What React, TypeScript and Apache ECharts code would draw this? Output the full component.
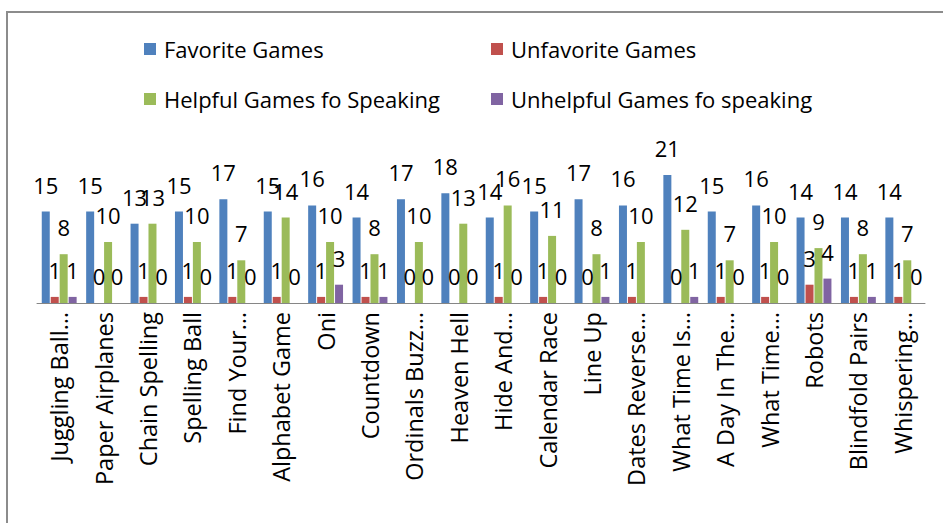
import React, { useEffect, useRef } from "react";
import * as echarts from "echarts";

const categories = [
  "Juggling Ball…",
  "Paper Airplanes",
  "Chain Spelling",
  "Spelling Ball",
  "Find Your…",
  "Alphabet Game",
  "Oni",
  "Countdown",
  "Ordinals Buzz…",
  "Heaven Hell",
  "Hide And…",
  "Calendar Race",
  "Line Up",
  "Dates Reverse…",
  "What Time Is…",
  "A Day In The…",
  "What Time…",
  "Robots",
  "Blindfold Pairs",
  "Whispering…",
];

const favoriteGames = [15, 15, 13, 15, 17, 15, 16, 14, 17, 18, 14, 15, 17, 16, 21, 15, 16, 14, 14, 14];
const unfavoriteGames = [1, 0, 1, 1, 1, 1, 1, 1, 0, 0, 1, 1, 0, 1, 0, 1, 1, 3, 1, 1];
const helpfulSpeaking = [8, 10, 13, 10, 7, 14, 10, 8, 10, 13, 16, 11, 8, 10, 12, 7, 10, 9, 8, 7];
const unhelpfulSpeaking = [1, 0, 0, 0, 0, 0, 3, 1, 0, 0, 0, 0, 1, null, 1, 0, 0, 4, 1, 0];

const seriesNames = [
  "Favorite Games",
  "Unfavorite Games",
  "Helpful Games fo Speaking",
  "Unhelpful Games fo speaking",
];
const colors = ["#4F81BD", "#C0504D", "#9BBB59", "#8064A2"];

const FONT = "'Open Sans', sans-serif";

export default function App() {
  const ref = useRef<HTMLDivElement>(null);

  useEffect(() => {
    if (!ref.current) return;
    const chart = echarts.init(ref.current, null, { renderer: "svg" });
    const datasets = [favoriteGames, unfavoriteGames, helpfulSpeaking, unhelpfulSpeaking];
    const legendCommon = {
      orient: "vertical" as const,
      top: 33,
      itemWidth: 12,
      itemHeight: 12,
      itemGap: 28,
      icon: "rect",
      textStyle: {
        fontFamily: FONT,
        fontSize: 22,
        color: "#000",
        lineHeight: 22,
        padding: [0, 0, 0, 3],
      },
    };
    chart.setOption({
      animation: false,
      backgroundColor: "#fff",
      color: colors,
      textStyle: { fontFamily: FONT },
      legend: [
        { ...legendCommon, left: 139, data: [seriesNames[0], seriesNames[2]] },
        { ...legendCommon, left: 486, data: [seriesNames[1], seriesNames[3]] },
      ],
      graphic: [
        {
          type: "rect",
          shape: { x: 7, y: 12, width: 1000, height: 600 },
          style: { fill: "none", stroke: "#8c8c8c", lineWidth: 2 },
          silent: true,
        },
      ],
      grid: { left: 37, width: 888, top: 150.5, height: 152.5, containLabel: false },
      xAxis: {
        type: "category",
        data: categories,
        axisLine: { lineStyle: { color: "#868686", width: 1 } },
        axisTick: { show: false },
        axisLabel: {
          interval: 0,
          rotate: 90,
          margin: 9,
          fontFamily: FONT,
          fontSize: 23.5,
          color: "#000",
        },
      },
      yAxis: {
        type: "value",
        min: 0,
        max: 25,
        show: false,
        splitLine: { show: false },
      },
      series: datasets.map((d, i) => ({
        name: seriesNames[i],
        type: "bar",
        data: d,
        barWidth: 8,
        barGap: "12%",
        itemStyle: { color: colors[i] },
        label: {
          show: true,
          position: "top",
          distance: 16,
          fontFamily: FONT,
          fontSize: 22,
          color: "#000",
        },
      })),
    });
    return () => chart.dispose();
  }, []);

  return (
    <div
      ref={ref}
      style={{ position: "fixed", left: 0, top: 0, width: 943, height: 523 }}
    />
  );
}
